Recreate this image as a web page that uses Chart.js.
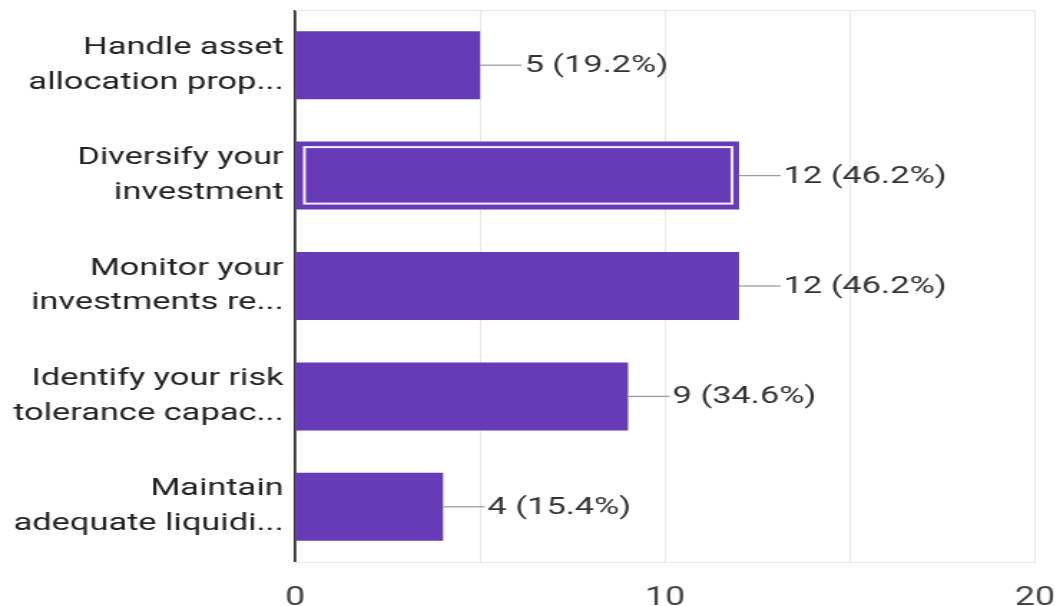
<!DOCTYPE html>
<html>
<head>
<meta charset="utf-8">
<script src="https://cdn.jsdelivr.net/npm/chart.js@4.4.1/dist/chart.umd.min.js"></script>
<style>
  html, body { margin: 0; padding: 0; background: #fff; overflow: hidden; }
  #chart { display: block; }
</style>
</head>
<body>
<!-- drawn narrow and stretched sideways, like the source screenshot -->
<canvas id="chart" width="740" height="606" style="width:1060px;height:606px"></canvas>
<script>
// ── Data ──────────────────────────────────────────────────────────────────
const categories = [
  ['Handle asset', 'allocation prop...'],
  ['Diversify your', 'investment'],
  ['Monitor your', 'investments re...'],
  ['Identify your risk', 'tolerance capac...'],
  ['Maintain', 'adequate liquidi...']
]
const counts   = [5, 12, 12, 9, 4]
const percents = [19.2, 46.2, 46.2, 34.6, 15.4]
const labeledTicks = [0, 10, 20]
const highlighted = 1

const FONT = 'Roboto, "Noto Sans", sans-serif'

// keep the plot box where the screenshot has it
function noPad(s) {
  s.paddingTop = 0
  s.paddingBottom = 0
  s.paddingLeft = 0
  s.paddingRight = 0
}

// ── Value labels with leader lines + highlight box ───────────────────────
const barExtras = {
  id: 'barExtras',
  afterDatasetsDraw(chart) {
    const ctx = chart.ctx
    const meta = chart.getDatasetMeta(0)
    ctx.save()
    meta.data.forEach((bar, i) => {
      const { x, y, base, height } = bar.getProps(['x', 'y', 'base', 'height'], true)
      if (i === highlighted) {
        ctx.strokeStyle = '#f6ecff'
        ctx.lineWidth = 2
        ctx.strokeRect(base + 5.6, y - height / 2 + 5.5, x - base - 10.5, height - 11.5)
      }
      ctx.strokeStyle = '#9e9e9e'
      ctx.lineWidth = 1.3
      ctx.beginPath()
      ctx.moveTo(x, y)
      ctx.lineTo(x + 29, y)
      ctx.stroke()
      ctx.fillStyle = '#333'
      ctx.font = `24px ${FONT}`
      ctx.textAlign = 'left'
      ctx.textBaseline = 'middle'
      ctx.fillText(`${counts[i]} (${percents[i]}%)`, x + 31, y + 1)
    })
    ctx.restore()
  }
}

new Chart(document.getElementById('chart'), {
  type: 'bar',
  data: {
    labels: categories,
    datasets: [{
      data: counts,
      backgroundColor: '#673ab7',
      borderWidth: 0,
      barPercentage: 0.616,
      categoryPercentage: 1
    }]
  },
  plugins: [barExtras],
  options: {
    indexAxis: 'y',
    responsive: false,
    devicePixelRatio: 1,
    animation: false,
    layout: { padding: { top: 10, right: 17.4, left: 0, bottom: 0 } },
    plugins: { legend: { display: false }, tooltip: { enabled: false } },
    scales: {
      x: {
        min: 0,
        max: 20,
        afterFit: s => { s.height = 44; noPad(s) },
        border: { display: true, color: '#e8e8e8', width: 1 },
        grid: {
          drawTicks: false,
          color: c => (c.tick && c.tick.value === 0 ? '#333' : '#e8e8e8'),
          lineWidth: c => (c.tick && c.tick.value === 0 ? 1.8 : 1)
        },
        ticks: {
          stepSize: 5,
          padding: 22,
          maxRotation: 0,
          color: '#444',
          font: { family: FONT, size: 25 },
          callback: v => (labeledTicks.includes(v) ? String(v) : '')
        }
      },
      y: {
        afterFit: s => { s.width = 206; noPad(s) },
        border: { display: false },
        grid: {
          drawTicks: false,
          color: c => (c.index === 0 ? '#e8e8e8' : 'rgba(0,0,0,0)')
        },
        ticks: {
          padding: 8,
          color: '#222',
          font: { family: FONT, size: 24, lineHeight: 1.45 }
        }
      }
    }
  }
})
</script>
</body>
</html>
